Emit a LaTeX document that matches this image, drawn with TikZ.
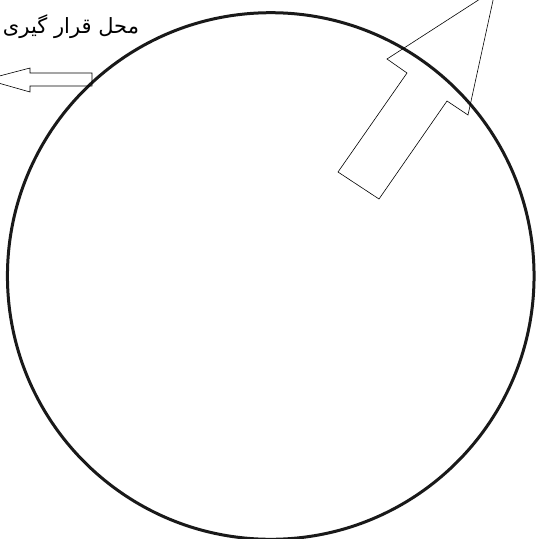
\documentclass[tikz,border=0pt]{standalone}
\usepackage{fontspec}
\newfontfamily\arabicfont[Script=Arabic]{DejaVu Sans}
\TeXXeTstate=1
\usetikzlibrary{positioning}

\begin{document}
\begin{tikzpicture}[
    x=1pt, y=-1pt,
    % --- Styles ---
    rim/.style={draw=black!90, line width=3pt, circle, minimum size=526.6pt, inner sep=0pt},
    block_arrow/.style={draw=black, line width=0.6pt, line join=miter, fill=none},
    label_text/.style={font=\arabicfont\fontsize{21}{23}\selectfont, text=black, inner sep=0pt}
]

    % ==========================
    % 0. FRAME
    % ==========================
    \clip (0,0) rectangle (537,539);
    \useasboundingbox (0,0) rectangle (537,539);

    % ==========================
    % 1. CIRCLE
    % ==========================
    \node[rim] (field) at (270.75,276) {};

    % ==========================
    % 2. LEFT ARROW + LABEL
    % ==========================
    \draw[block_arrow] (92,73) -- (30,73) -- (30,68) -- (-14,79.5)
        -- (30,92) -- (30,86) -- (92,86) -- cycle;

    \node[label_text] (place) at (71,27) {\beginR محل قرار گیری\endR};

    % ==========================
    % 3. BIG ARROW (TOP RIGHT)
    % ==========================
    \draw[block_arrow] (338,172) -- (407,73) -- (387,59) -- (495.5,-11)
        -- (468,115) -- (447,101) -- (379,199) -- cycle;

\end{tikzpicture}
\end{document}
